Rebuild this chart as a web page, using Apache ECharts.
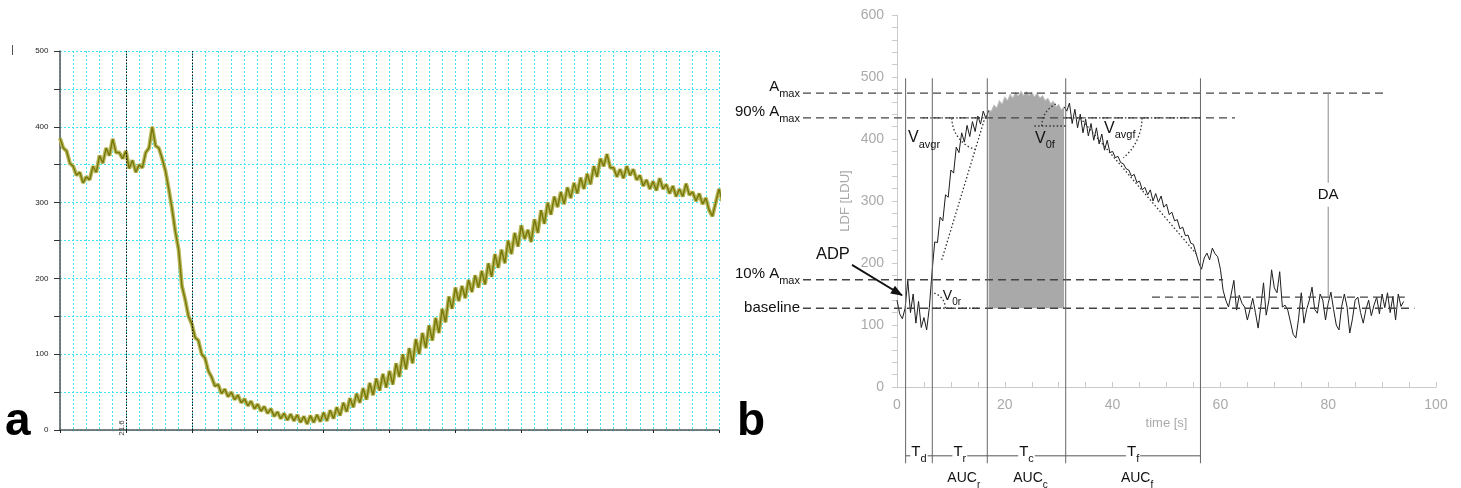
<!DOCTYPE html>
<html><head><meta charset="utf-8">
<script src="https://cdn.jsdelivr.net/npm/echarts@6/dist/echarts.min.js"></script>
<style>html,body{margin:0;padding:0;background:#fff;}#main{width:1461px;height:488px;}</style>
</head><body><div id="main"></div>
<script>
// ---------------- DATA ----------------
// Panel a: olive trace, sampled every 0.5 grid units
const aStep = 0.5;
const aValues = [
 385,372,368,352,348,336,340,326,334,330,
 348,340,362,352,372,362,384,366,366,358,
 368,345,356,340,350,346,366,372,400,375,
 372,358,342,318,292,262,238,190,172,150,
 140,122,118,100,95,78,70,58,60,48,
 54,44,50,40,46,36,41,32,38,28,
 34,25,31,22,28,18,24,15,22,13,
 21,12,20,10,18,8,19,10,20,11,
 23,12,26,15,30,19,36,24,42,30,
 48,36,55,40,62,46,68,52,74,56,
 78,60,88,70,100,80,108,88,120,100,
 128,108,138,118,148,128,160,142,176,160,
 188,170,190,174,198,182,204,188,210,192,
 220,202,232,214,238,220,250,232,260,242,
 270,252,264,248,278,260,290,272,300,284,
 308,294,314,298,320,306,326,312,333,318,
 338,324,348,334,358,348,364,346,346,334,
 344,332,348,336,344,330,336,322,330,318,
 328,316,332,318,324,312,322,308,318,308,
 325,310,314,302,312,298,306,290,282,300,
 318,302,312
];
const aYTicks = [0, 100, 200, 300, 400, 500];
const aXRange = [0, 100];
const aCursorX = [10, 20];
const aCursorLabel = '21.6';

// Panel b: LDF trace [LDU], sampled every 0.5 s from t = 0
const bStep = 0.5;
const bLdf = [
 140,118,110,127,172,120,150,103,138,96,112,92,128,
 185,234,233,274,268,310,306,350,345,387,378,410,395,422,404,428,412,437,424,445,433,446,
 445,455,450,462,456,468,462,472,466,476,469,477,470,477,470,476,468,474,466,470,462,466,457,461,452,456,447,452,
 445,458,425,448,418,440,410,432,405,425,398,418,392,408,382,398,378,380,370,372,362,360,352,350,340,343,
 330,332,318,322,310,318,300,312,298,308,290,295,278,282,268,270,255,258,244,245,232,230,215,200,190,
 208,216,205,224,215,210,190,156,140,129,150,172,124,148,135,129,108,125,143,120,95,130,168,116,140,189,
 160,152,186,129,132,124,105,85,79,110,152,103,125,140,161,125,119,150,140,108,135,153,125,100,92,130,
 150,129,87,110,140,145,120,103,125,140,115,132,145,118,150,128,152,120,146,108,150,130,138
];
const bXTicks = [0, 20, 40, 60, 80, 100];
const bYTicks = [0, 100, 200, 300, 400, 500, 600];
const bLevelNames = [['A', 'max'], ['90% A', 'max'], ['10% A', 'max'], ['baseline', '']];
const bLevelValues = [474, 434, 173, 127];
const bLevelEnds = [91, 62.7, 60.5, 96];
const bRecovery = [145, 47.3, 94.2];          // value, from t, to t
const bPhaseTimes = [1.6, 6.55, 16.75, 31.3, 56.3];
const bPhaseNames = [['T', 'd'], ['T', 'r'], ['T', 'c'], ['T', 'f']];
const bAucNames = [null, ['AUC', 'r'], ['AUC', 'c'], ['AUC', 'f']];
const bDaTime = 80;

// ---------------- CHART ----------------
const FONT = '"Liberation Sans", Arial, Helvetica, sans-serif';
const CYAN = '#3fe3ef';
const aData = aValues.map((v, i) => [i * aStep, v]);
const bAll = bLdf.map((v, i) => [i * bStep, v]);
const tC0 = bPhaseTimes[2], tC1 = bPhaseTimes[3];
const bLine = bAll.filter(p => p[0] <= tC0 + 0.3).concat([[null, null]]).concat(bAll.filter(p => p[0] >= tC1 - 0.3));
const bArea = bAll.filter(p => p[0] >= tC0 && p[0] <= tC1);

const chart = echarts.init(document.getElementById('main'), null, {renderer: 'canvas'});
const option = {
  animation: false,
  backgroundColor: '#ffffff',
  grid: [
    {left: 60, right: 742, top: 51, bottom: 58, outerBoundsMode: 'none'},
    {left: 897, right: 25, top: 15, bottom: 101, outerBoundsMode: 'none'}
  ],
  xAxis: [
    {gridIndex: 0, type: 'value', min: aXRange[0], max: aXRange[1], interval: 10, offset: 8,
     axisLine: {show: true, lineStyle: {color: '#555', width: 1.5}},
     axisTick: {show: true, length: 3, lineStyle: {color: '#222'}},
     axisLabel: {show: false},
     splitLine: {show: true, lineStyle: {color: CYAN, type: [2, 2], width: 1}},
     minorTick: {show: false, splitNumber: 5},
     minorSplitLine: {show: true, lineStyle: {color: CYAN, type: [2, 2], width: 1}}},
    {gridIndex: 1, type: 'value', min: bXTicks[0], max: bXTicks[bXTicks.length - 1], interval: 20,
     name: 'time [s]', nameLocation: 'middle', nameGap: 23,
     nameTextStyle: {color: '#aaa', fontSize: 13, fontFamily: FONT},
     axisLine: {show: true, lineStyle: {color: '#cacaca'}},
     axisTick: {show: true, inside: true, length: 5, lineStyle: {color: '#cacaca'}},
     minorTick: {show: true, splitNumber: 4, length: 5, lineStyle: {color: '#cacaca'}},
     axisLabel: {color: '#aaa', fontSize: 14, margin: 11, fontFamily: FONT},
     splitLine: {show: false}}
  ],
  yAxis: [
    {gridIndex: 0, type: 'value', min: aYTicks[0], max: aYTicks[aYTicks.length - 1], interval: 50, offset: 2.5,
     axisLine: {show: true, lineStyle: {color: '#555', width: 1.5}},
     axisTick: {show: true, length: 6, lineStyle: {color: '#333'}},
     axisLabel: {fontSize: 8, color: '#222', margin: 9, fontFamily: FONT,
                 formatter: v => aYTicks.indexOf(v) >= 0 ? String(v) : ''},
     splitLine: {show: true, lineStyle: {color: CYAN, type: [2, 2], width: 1}}},
    {gridIndex: 1, type: 'value', min: bYTicks[0], max: bYTicks[bYTicks.length - 1], interval: 100,
     name: 'LDF [LDU]', nameLocation: 'middle', nameGap: 45,
     nameTextStyle: {color: '#aaa', fontSize: 13, fontFamily: FONT},
     axisLine: {show: true, lineStyle: {color: '#cacaca'}},
     axisTick: {show: true, length: 5, lineStyle: {color: '#cacaca'}},
     minorTick: {show: true, splitNumber: 5, length: 5, lineStyle: {color: '#cacaca'}},
     axisLabel: {color: '#aaa', fontSize: 14, margin: 13, fontFamily: FONT},
     splitLine: {show: false}}
  ],
  series: [
    {type: 'line', xAxisIndex: 0, yAxisIndex: 0, data: aData, symbol: 'none', clip: false, z: 2,
     lineStyle: {color: '#b8b85a', width: 4}, emphasis: {disabled: true}, silent: true},
    {type: 'line', xAxisIndex: 0, yAxisIndex: 0, data: aData, symbol: 'none', clip: false, z: 3,
     lineStyle: {color: '#77770c', width: 1.4}, emphasis: {disabled: true},
     markLine: {silent: true, symbol: ['none', 'none'], label: {show: false}, emphasis: {disabled: true},
                lineStyle: {color: '#111', type: [1.5, 1.5], width: 1},
                data: aCursorX.map(x => ({xAxis: x}))}},
    {type: 'line', xAxisIndex: 1, yAxisIndex: 1, data: bArea, symbol: 'none', z: 2,
     lineStyle: {color: '#c2c2c2', width: 1}, emphasis: {disabled: true},
     areaStyle: {color: '#a9a9a9', opacity: 1, origin: bLevelValues[3]}},
    {type: 'line', xAxisIndex: 1, yAxisIndex: 1, data: bLine, symbol: 'none', connectNulls: false, z: 3,
     lineStyle: {color: '#1e1e1e', width: 1}, emphasis: {disabled: true}}
  ]
};
chart.setOption(option);

// ---------------- ANNOTATIONS ----------------
const pa = (x, y) => chart.convertToPixel({gridIndex: 0}, [x, y]);
const pb = (x, y) => chart.convertToPixel({gridIndex: 1}, [x, y]);
const G = [];
const mctx = document.createElement('canvas').getContext('2d');
function tw(s, size, weight) { mctx.font = (weight || 'normal') + ' ' + size + 'px ' + FONT; return mctx.measureText(s).width; }
function ln(p1, p2, st) {
  G.push({type: 'line', silent: true, z: 100, shape: {x1: p1[0], y1: p1[1], x2: p2[0], y2: p2[1]},
          style: Object.assign({stroke: '#444', lineWidth: 1, fill: 'none'}, st || {})});
}
function txt(x, y, s, size, o) {
  o = o || {};
  G.push({type: 'text', silent: true, z: 100, x: x, y: y, rotation: o.rotation || 0,
    style: {text: s, fontSize: size, fontFamily: FONT, fontWeight: o.weight || 'normal', fill: o.color || '#111',
            align: o.align || 'left', verticalAlign: o.va || 'middle',
            textAlign: o.align || 'left', textVerticalAlign: o.va || 'middle'}});
}
function subLabel(x, y, main, sub, align, size, subSize, dy) {
  const w1 = tw(main, size), w2 = sub ? tw(sub, subSize) : 0, W = w1 + w2;
  const x0 = align === 'right' ? x - W : align === 'center' ? x - W / 2 : x;
  txt(x0, y, main, size);
  if (sub) txt(x0 + w1, y + dy, sub, subSize);
  return W;
}
function arc(c, r, a0, a1) {
  G.push({type: 'arc', silent: true, z: 100,
    shape: {cx: c[0], cy: c[1], r: r, startAngle: a0 * Math.PI / 180, endAngle: a1 * Math.PI / 180, clockwise: true},
    style: {stroke: '#333', lineWidth: 1.3, lineDash: [1.5, 2.2], fill: 'none'}});
}
const DASH = {stroke: '#444', lineWidth: 1.4, lineDash: [8, 5]};
const DOT = {stroke: '#333', lineWidth: 1.3, lineDash: [1.5, 2.2]};

// panel a extras
const cur = pa(aCursorX[0], 0);
txt(cur[0] - 4, cur[1] - 2, aCursorLabel, 8, {rotation: Math.PI / 2, align: 'center', color: '#333'});
ln([12.5, 45], [12.5, 55], {stroke: '#555', lineWidth: 1});

// panel b level lines + labels
const labelX = pb(-18, 0)[0];
bLevelValues.forEach((v, i) => {
  const p = pb(0, v);
  ln([labelX + 3, p[1]], [pb(bLevelEnds[i], v)[0], p[1]], DASH);
  const nm = bLevelNames[i];
  if (nm[1]) subLabel(labelX, p[1] - 6, nm[0], nm[1], 'right', 15, 11, 7);
  else subLabel(labelX, p[1], nm[0], '', 'right', 15, 11, 0);
});
ln(pb(bRecovery[1], bRecovery[0]), pb(bRecovery[2], bRecovery[0]), DASH);

// phase lines
const topV = 498, botV = -123, brV = -111, aucV = -147;
bPhaseTimes.forEach(t => ln(pb(t, topV), pb(t, botV), {stroke: '#666', lineWidth: 1}));
bPhaseNames.forEach((nm, i) => {
  const a = pb(bPhaseTimes[i], brV), b = pb(bPhaseTimes[i + 1], brV);
  const cx = (a[0] + b[0]) / 2;
  const W = subLabel(cx, a[1] - 4, nm[0], nm[1], 'center', 15, 11, 7);
  ln([a[0], a[1]], [cx - W / 2 - 1, a[1]], {stroke: '#555', lineWidth: 1});
  ln([cx + W / 2 + 1, a[1]], [b[0], b[1]], {stroke: '#555', lineWidth: 1});
  const au = bAucNames[i];
  if (au) subLabel(cx + 4, pb(0, aucV)[1], au[0], au[1], 'center', 14, 10, 7);
});

// DA
const daTop = pb(bDaTime, bLevelValues[0]), daBot = pb(bDaTime, bRecovery[0]), daMid = pb(bDaTime, 310);
ln(daTop, [daMid[0], daMid[1] - 12], {stroke: '#888', lineWidth: 1});
ln([daMid[0], daMid[1] + 12], daBot, {stroke: '#888', lineWidth: 1});
txt(daMid[0], daMid[1], 'DA', 15, {align: 'center'});

// ADP arrow
const ar0 = pb(-8.35, 197), ar1 = pb(0.93, 148);
ln(ar0, ar1, {stroke: '#111', lineWidth: 1.8});
(function () {
  const dx = ar1[0] - ar0[0], dy = ar1[1] - ar0[1], L = Math.hypot(dx, dy), ux = dx / L, uy = dy / L;
  const bx = ar1[0] - ux * 11, by = ar1[1] - uy * 11;
  G.push({type: 'polygon', silent: true, z: 101,
    shape: {points: [[ar1[0] + ux, ar1[1] + uy], [bx - uy * 4.5, by + ux * 4.5], [bx + uy * 4.5, by - ux * 4.5]]},
    style: {fill: '#111'}});
})();
const adp = pb(-11.9, 213);
txt(adp[0], adp[1], 'ADP', 16.5, {align: 'center'});

// velocity constructions
ln(pb(8.3, 205), pb(16.3, 434), DOT);
ln(pb(4.8, 434), pb(16.5, 434), DOT);
arc(pb(16.3, 434), 33, 106, 180);
ln(pb(6.5, 127), pb(15, 127), DOT);
arc(pb(6.0, 127), 16, -72, 0);
ln(pb(25.5, 421), pb(31.5, 421), DOT);
arc(pb(31.3, 421), 24, 180, 246);
ln(pb(31.3, 434), pb(56.3, 434), DOT);
ln(pb(34, 434), pb(55.5, 215), DOT);
arc(pb(35.8, 434), 52, 0, 50);

const vA = pb(2.04, 401.6); subLabel(vA[0], vA[1], 'V', 'avgr', 'left', 16, 11, 7);
const v0f = pb(25.6, 401); subLabel(v0f[0], v0f[1], 'V', '0f', 'left', 16, 11, 7);
const vAf = pb(38.4, 417); subLabel(vAf[0], vAf[1], 'V', 'avgf', 'left', 16, 11, 7);
const v0r = pb(8.5, 147); subLabel(v0r[0], v0r[1], 'V', '0r', 'left', 14, 10, 6);

// panel letters
txt(5, 422, 'a', 46, {weight: 'bold', color: '#000'});
txt(737, 422, 'b', 46, {weight: 'bold', color: '#000'});

chart.setOption({graphic: {elements: G}});
</script></body></html>
